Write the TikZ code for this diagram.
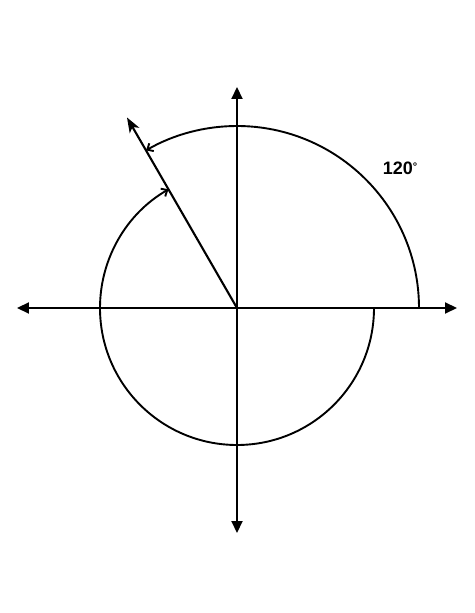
\documentclass[tikz,border=0pt]{standalone}
\usepackage{fontspec}
\setsansfont{Liberation Sans}
\usetikzlibrary{arrows.meta, positioning, calc}

\begin{document}
\begin{tikzpicture}[x=1pt, y=1pt, line width=2.1pt,
		axis/.style={{Triangle[length=12pt,width=11pt]}-{Triangle[length=12pt,width=11pt]}},
		ray/.style={-{Stealth[length=15pt,width=11pt,inset=4pt]}},
		turn/.style={-{Straight Barb[length=5pt,width=9pt]}, line width=1.9pt}]
	\useasboundingbox (-237,-305) rectangle (237,308);
			\coordinate (o) at (0,0);
			\coordinate (w) at (-220,0);
			\coordinate (e) at (220,0);
			\coordinate (n) at (0,221);
			\coordinate (s) at (0,-225);
			\coordinate (tip) at (120:220);
			\draw[axis] (w) -- (e);
			\draw[axis] (s) -- (n);
			\draw[ray] (o) -- (tip);
			\draw[turn] (182,0) arc[start angle=0, end angle=120, radius=182];
			\draw[turn] (137,0) arc[start angle=0, end angle=-240, radius=137];
			\node[font=\sffamily\bfseries\fontsize{18}{20}\selectfont] (ang) at (163,140) {120\raisebox{4pt}{\fontsize{11}{12}\selectfont\textdegree}};
		\end{tikzpicture}
\end{document}
